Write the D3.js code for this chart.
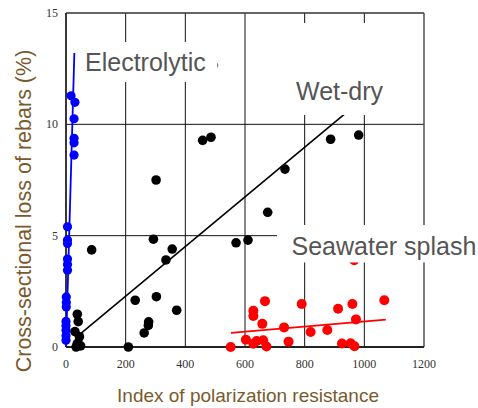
<!DOCTYPE html>
<html>
<head>
<meta charset="utf-8">
<script src="https://cdn.jsdelivr.net/npm/d3@7"></script>
<style>
  html, body { margin: 0; padding: 0; background: #fff; }
  svg { display: block; }
</style>
</head>
<body>
<svg id="chart" width="478" height="408"></svg>
<script>
// Axis ticks
const xTicks = [0, 200, 400, 600, 800, 1000, 1200];
const yTicks = [0, 5, 10, 15];

// Electrolytic series
const electroX = [0, 0, 0, 0, 0, 1, 1, 1, 5, 5, 5, 5, 5, 5, 27, 27, 27, 27, 30, 17];
const electroY = [0.3, 0.5, 0.75, 0.95, 1.15, 1.8, 2.0, 2.25, 3.45, 3.7, 3.95, 4.65, 4.8, 5.4, 8.62, 9.17, 9.37, 10.25, 10.99, 11.28];

// Wet-dry series
const wetX = [34, 49, 38, 45, 30, 41, 38, 86, 209, 232, 262, 276, 277, 293, 302, 303, 335, 356, 371, 458, 486, 494, 570, 610, 676, 734, 887, 981];
const wetY = [0, 0.05, 0.16, 0.46, 0.69, 1.14, 1.47, 4.36, 0, 2.1, 0.63, 0.97, 1.13, 4.84, 7.5, 2.26, 3.91, 4.4, 1.65, 9.28, 9.42, 12.65, 4.68, 4.8, 6.05, 7.99, 9.33, 9.52];

// Seawater splash series
const seaX = [552, 603, 628, 639, 661, 672, 628, 628, 658, 667, 731, 746, 790, 820, 876, 912, 925, 954, 967, 960, 972, 1067, 966];
const seaY = [0, 0.33, 0.15, 0.27, 0.3, 0.02, 1.39, 1.63, 1.04, 2.06, 0.88, 0.24, 1.93, 0.67, 0.76, 1.72, 0.16, 0.17, 0.03, 1.93, 1.24, 2.10, 3.9];

// Trend lines: [x0, y0], [x1, y1]
const electroTrend = [[0, 0], [28, 13.2]];
const wetTrend = [[50, 0.61], [1000, 11.2]];
const seaTrend = [[553, 0.63], [1072, 1.23]];

const svg = d3.select("#chart");
const m = { left: 66, top: 13, right: 54, bottom: 61 };
const W = 478 - m.left - m.right;
const H = 408 - m.top - m.bottom;

const x = d3.scaleLinear().domain([0, 1200]).range([0, W]);
const y = d3.scaleLinear().domain([0, 15]).range([H, 0]);

const g = svg.append("g").attr("transform", `translate(${m.left},${m.top})`);

// Grid
g.append("g").selectAll("line")
  .data(xTicks.filter(d => d > 0 && d < 1200)).join("line")
  .attr("x1", d => x(d)).attr("x2", d => x(d))
  .attr("y1", 0).attr("y2", H)
  .attr("stroke", "#111").attr("stroke-width", 1);
g.append("g").selectAll("line")
  .data(yTicks.filter(d => d > 0 && d < 15)).join("line")
  .attr("x1", 0).attr("x2", W)
  .attr("y1", d => y(d)).attr("y2", d => y(d))
  .attr("stroke", "#111").attr("stroke-width", 1);

// Frame
g.append("line").attr("x1", 0).attr("x2", W).attr("y1", 0).attr("y2", 0)
  .attr("stroke", "#333").attr("stroke-width", 1.6);
g.append("line").attr("x1", W).attr("x2", W).attr("y1", 0).attr("y2", H)
  .attr("stroke", "#444").attr("stroke-width", 1.4);
g.append("line").attr("x1", 0).attr("x2", 0).attr("y1", 0).attr("y2", H)
  .attr("stroke", "#222").attr("stroke-width", 1.8);
g.append("line").attr("x1", 0).attr("x2", W).attr("y1", H).attr("y2", H)
  .attr("stroke", "#222").attr("stroke-width", 1.8);

// Tick labels
const tickFont = "'Liberation Serif', 'Times New Roman', serif";
g.append("g").selectAll("text")
  .data(xTicks).join("text")
  .attr("x", d => x(d)).attr("y", H + 21)
  .attr("text-anchor", "middle")
  .attr("font-family", tickFont).attr("font-size", 12)
  .attr("fill", "#333")
  .text(d => d);
g.append("g").selectAll("text")
  .data(yTicks).join("text")
  .attr("x", -8).attr("y", d => y(d) + 4)
  .attr("text-anchor", "end")
  .attr("font-family", tickFont).attr("font-size", 12)
  .attr("fill", "#333")
  .text(d => d);

// Trend lines
const line = d3.line().x(d => x(d[0])).y(d => y(d[1]));
g.append("path").datum(electroTrend).attr("d", line)
  .attr("fill", "none").attr("stroke", "#0000ff").attr("stroke-width", 1.8);
g.append("path").datum(wetTrend).attr("d", line)
  .attr("fill", "none").attr("stroke", "#000").attr("stroke-width", 1.6);
g.append("path").datum(seaTrend).attr("d", line)
  .attr("fill", "none").attr("stroke", "#ff0000").attr("stroke-width", 1.8);

// Points
function drawPoints(xs, ys, color, r) {
  g.append("g").selectAll("circle")
    .data(xs.map((v, i) => [v, ys[i]])).join("circle")
    .attr("cx", d => x(d[0])).attr("cy", d => y(d[1]))
    .attr("r", r).attr("fill", color);
}
drawPoints(wetX, wetY, "#000", 4.8);
drawPoints(seaX, seaY, "#ff0000", 5);
drawPoints(electroX, electroY, "#0000ff", 4.6);

// Series labels on white panels
const labelFont = "'Liberation Sans', Arial, sans-serif";
const labels = [
  { text: "Electrolytic", tx: 85, ty: 71, box: [78, 42, 217.5, 82] },
  { text: "Wet-dry", tx: 296, ty: 100, box: [282, 23, 402, 115] },
  { text: "Seawater splash", tx: 291.5, ty: 255, box: [277, 225, 478, 262.5] }
];
labels.forEach(l => {
  svg.append("rect")
    .attr("x", l.box[0]).attr("y", l.box[1])
    .attr("width", l.box[2] - l.box[0]).attr("height", l.box[3] - l.box[1])
    .attr("fill", "#fff");
  svg.append("text")
    .attr("x", l.tx).attr("y", l.ty)
    .attr("font-family", labelFont).attr("font-size", 25)
    .attr("fill", "#555")
    .text(l.text);
});

// Axis titles
svg.append("text")
  .attr("x", 248).attr("y", 402)
  .attr("text-anchor", "middle")
  .attr("font-family", labelFont).attr("font-size", 19)
  .attr("fill", "#7a5a2c")
  .text("Index of polarization resistance");
svg.append("text")
  .attr("transform", "translate(31,211) rotate(-90)")
  .attr("text-anchor", "middle")
  .attr("font-family", labelFont).attr("font-size", 21.5)
  .attr("fill", "#7a5a2c")
  .text("Cross-sectional loss of rebars (%)");
</script>
</body>
</html>
